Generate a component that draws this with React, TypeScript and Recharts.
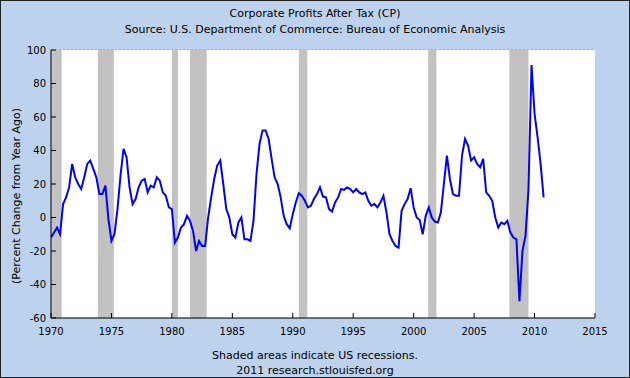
import React from "react";
import {
  LineChart,
  Line,
  XAxis,
  YAxis,
  CartesianGrid,
  ReferenceArea,
} from "recharts";

// quarterly % change from year ago, 1970 Q1 .. 2010 Q4
const startYear = 1970;
const profitChange = [
  -12, -9, -6, -10, // 1970
  8, 12, 18, 32,
  24, 20, 17, 24,
  32, 34, 29, 24,
  14, 14, 19, -1,
  -14, -10, 5, 25, // 1975
  41, 36, 18, 8,
  11, 18, 22, 23,
  15, 19, 18, 24,
  22, 15, 13, 6,
  5, -15, -12, -6, // 1980
  -4, 1, -2, -8,
  -20, -14, -17, -17,
  0, 12, 23, 31,
  34, 20, 5, 0,
  -10, -12, -3, 0, // 1985
  -13, -13, -14, -2,
  26, 44, 52, 52,
  47, 35, 24, 20,
  12, 1, -4, -6.5,
  2, 9, 14.5, 13, // 1990
  10, 6, 7, 11,
  14, 18, 12.5, 12,
  5, 3.5, 9, 12,
  17, 16.5, 18, 17,
  15, 17, 15, 14, // 1995
  15, 10, 7, 8,
  6, 9, 13, 3,
  -10, -14, -17, -18,
  4, 8, 11, 17.5,
  6, 0, -1.5, -10, // 2000
  1, 6, 0, -2.5,
  -3, 3, 20, 37,
  23, 14, 13, 13,
  37, 47, 43, 34,
  36, 32, 30, 35, // 2005
  15, 13, 10, 0,
  -6, -3, -4, -2,
  -9, -12, -13, -50,
  -20, -11, 17, 91,
  62, 48, 32, 12, // 2010
];

const recessionStarts = [1969.92, 1973.87, 1980.0, 1981.5, 1990.5, 2001.2, 2007.92];
const recessionEnds = [1970.88, 1975.2, 1980.5, 1982.88, 1991.2, 2001.88, 2009.5];

const xTicks = [1970, 1975, 1980, 1985, 1990, 1995, 2000, 2005, 2010, 2015];
const yTicks = [-60, -40, -20, 0, 20, 40, 60, 80, 100];

const data = profitChange.map((v, i) => ({ t: startYear + i / 4, v }));

const FONT = "'DejaVu Sans', sans-serif";
const BG = "#bdd2ec";

function XTick(props: any) {
  const { x, y, payload } = props;
  return (
    <g>
      <line x1={x} x2={x} y1={y - 4} y2={y - 9} stroke="#000" />
      <text x={x} y={y + 13} textAnchor="middle" fontSize={10} fontFamily={FONT} fill="#000">
        {payload.value}
      </text>
    </g>
  );
}

function YTick(props: any) {
  const { x, y, payload } = props;
  return (
    <g>
      <line x1={x + 5} x2={x + 10} y1={y} y2={y} stroke="#000" />
      <text x={x} y={y} dy="0.35em" textAnchor="end" fontSize={10} fontFamily={FONT} fill="#000">
        {payload.value}
      </text>
    </g>
  );
}

export default function App() {
  return (
    <div
      style={{
        position: "absolute",
        left: 0,
        top: 0,
        width: 630,
        height: 378,
        boxSizing: "border-box",
        border: "1px solid #222",
        background: BG,
        fontFamily: FONT,
        color: "#000",
      }}
    >
      <style>{"body{margin:0}"}</style>
      <div style={{ position: "absolute", top: 5, width: "100%", textAlign: "center", fontSize: 11, lineHeight: "16px" }}>
        <div>Corporate Profits After Tax (CP)</div>
        <div>Source: U.S. Department of Commerce: Bureau of Economic Analysis</div>
      </div>
      <div
        style={{
          position: "absolute",
          left: 15,
          top: 195,
          transform: "translate(-50%, -50%) rotate(-90deg)",
          whiteSpace: "nowrap",
          fontSize: 11,
        }}
      >
        (Percent Change from Year Ago)
      </div>
      <div style={{ position: "absolute", top: 347, width: "100%", textAlign: "center", fontSize: 11, lineHeight: "15px" }}>
        <div>Shaded areas indicate US recessions.</div>
        <div>2011 research.stlouisfed.org</div>
      </div>
      <div style={{ position: "absolute", left: -1, top: -1 }}>
        <LineChart width={630} height={378} data={data} margin={{ top: 50, right: 35, bottom: 40, left: 0 }}>
          <rect x={51} y={50} width={544} height={268} fill="#fff" />
          <CartesianGrid vertical={false} stroke="#8c8c8c" strokeDasharray="2 2" fill="#fff" />
          {recessionStarts.map((s, i) => (
            <ReferenceArea key={i} x1={Math.max(s, 1970)} x2={recessionEnds[i]} y1={-60} y2={100} fill="#c2c2c2" fillOpacity={1} stroke="none" ifOverflow="hidden" />
          ))}
          <XAxis
            dataKey="t"
            type="number"
            domain={[1970, 2015]}
            ticks={xTicks}
            interval={0}
            height={20}
            tickSize={0}
            tickMargin={4}
            tick={<XTick />}
            stroke="#000"
            allowDataOverflow
          />
          <YAxis
            type="number"
            domain={[-60, 100]}
            ticks={yTicks}
            interval={0}
            width={51}
            tickSize={0}
            tickMargin={5}
            tick={<YTick />}
            stroke="#000"
            allowDataOverflow
          />
          <Line dataKey="v" type="linear" stroke="#0000ff" strokeWidth={2} dot={false} isAnimationActive={false} />
        </LineChart>
      </div>
    </div>
  );
}
